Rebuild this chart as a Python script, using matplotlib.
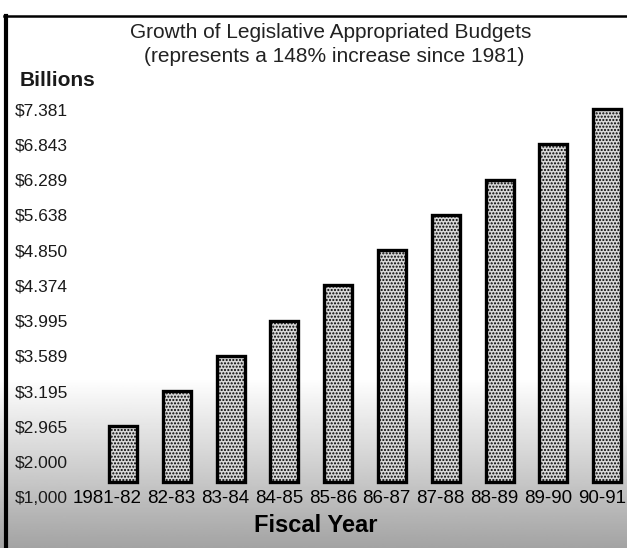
import matplotlib
matplotlib.use("Agg")
import matplotlib.pyplot as plt
import numpy as np
from matplotlib.lines import Line2D

# ---- data (billions of dollars) ----
YEARS = ["1981-82", "82-83", "83-84", "84-85", "85-86",
         "86-87", "87-88", "88-89", "89-90", "90-91"]
BUDGETS = [2.965, 3.195, 3.589, 3.995, 4.374,
           4.850, 5.638, 6.289, 6.843, 7.381]
Y_TICKS = [1.000, 2.000, 2.965, 3.195, 3.589, 3.995,
           4.374, 4.850, 5.638, 6.289, 6.843, 7.381]
Y_LABELS = ["$1,000", "$2.000", "$2.965", "$3.195", "$3.589", "$3.995",
            "$4.374", "$4.850", "$5.638", "$6.289", "$6.843", "$7.381"]
BAR_BASE = 1.43

FONT = ["Liberation Sans", "DejaVu Sans"]
plt.rcParams["font.family"] = FONT
plt.rcParams["hatch.linewidth"] = 1.0

# the original spaces its tick labels evenly, so the value axis is piecewise
TICK_POS = np.arange(len(Y_TICKS), dtype=float)
TV = np.array(Y_TICKS)


def fwd(v):
    v = np.asarray(v, dtype=float)
    p = np.interp(v, TV, TICK_POS)
    p = np.where(v < TV[0], (v - TV[0]) / (TV[1] - TV[0]), p)
    p = np.where(v > TV[-1], TICK_POS[-1] + (v - TV[-1]) / (TV[-1] - TV[-2]), p)
    return p


def inv(p):
    p = np.asarray(p, dtype=float)
    v = np.interp(p, TICK_POS, TV)
    v = np.where(p < 0, TV[0] + p * (TV[1] - TV[0]), v)
    v = np.where(p > TICK_POS[-1], TV[-1] + (p - TICK_POS[-1]) * (TV[-1] - TV[-2]), v)
    return v


W, H = 627, 548
fig = plt.figure(figsize=(W / 100, H / 100), dpi=100)
fig.patch.set_facecolor("white")

# scanned-paper shading at the bottom
bg = fig.add_axes([0, 0, 1, 170 / H], zorder=-5)
grad = np.linspace(0.64, 1.0, 200)[:, None]
bg.imshow(grad, cmap="gray", vmin=0, vmax=1, aspect="auto",
          extent=(0, 1, 0, 1), origin="lower")
bg.axis("off")

ax = fig.add_axes([75 / W, 1 - 505 / H, 1 - 75 / W, (505 - 100) / H])
ax.set_facecolor("none")
ax.set_yscale("function", functions=(fwd, inv))

x = np.arange(len(YEARS))
heights = np.array(BUDGETS) - BAR_BASE
ax.bar(x, heights, bottom=BAR_BASE, width=0.52, facecolor="#d8d8d8",
       edgecolor="black", linewidth=2.4, hatch=".....")

ax.set_xlim((75 - 123) / 53.8, (627 - 123) / 53.8)
ax.set_ylim(inv(-0.23), inv(11.26))

ax.set_yticks(Y_TICKS)
ax.set_yticklabels(Y_LABELS, fontsize=12.5, color="#1a1a1a")
for lbl in ax.get_yticklabels():
    lbl.set_ha("left")
ax.tick_params(axis="y", length=0, pad=43)

ax.set_xticks(x + 0.35)
ax.set_xticklabels(YEARS, fontsize=13.5, ha="right", color="black")
ax.tick_params(axis="x", length=0, pad=-10.8)
ax.yaxis.set_minor_locator(matplotlib.ticker.NullLocator())

for s in ax.spines.values():
    s.set_visible(False)

fig.text(331 / W, 1 - 32 / H, "Growth of Legislative Appropriated Budgets",
         ha="center", va="center", fontsize=15, color="#222222")
fig.text(334 / W, 1 - 57 / H, "(represents a 148% increase since 1981)",
         ha="center", va="center", fontsize=15, color="#222222")
fig.text(20 / W, 1 - 80 / H, "Billions", ha="left", va="center",
         fontsize=15, fontweight="bold", color="#1a1a1a")
fig.text(316 / W, 1 - 525 / H, "Fiscal Year", ha="center", va="center",
         fontsize=17, fontweight="bold", color="black")

# frame of the page
fig.add_artist(Line2D([5.5 / W, 5.5 / W], [0, 1 - 15.5 / H],
                      transform=fig.transFigure, color="black", linewidth=3))
fig.add_artist(Line2D([4 / W, 1], [1 - 15.5 / H, 1 - 15.5 / H],
                      transform=fig.transFigure, color="black", linewidth=1.8))

fig.savefig("out.png", dpi=100)
